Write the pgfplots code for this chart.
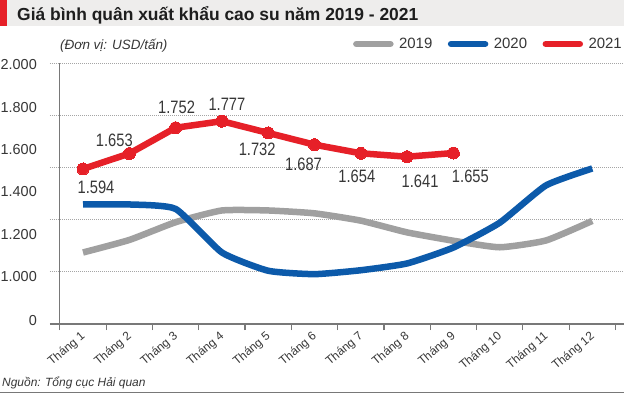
\documentclass[border=0pt]{standalone}
\usepackage{fontspec}
\setmainfont{Liberation Sans}
\newfontfamily\numfont{Liberation Sans}[FakeStretch=0.82]
\usepackage{pgfplots}
\usepackage{pgfplotstable}
\pgfplotsset{compat=1.18}
\definecolor{red21}{RGB}{230,32,40}
\definecolor{blue20}{RGB}{12,90,170}
\definecolor{gray19}{RGB}{160,160,160}
\definecolor{txt}{RGB}{55,55,55}
\definecolor{gridc}{RGB}{165,165,165}
\definecolor{axisc}{RGB}{120,120,120}
\definecolor{band}{RGB}{238,237,236}

\pgfplotstableread{
x y
1 1274
2 1322
3 1390
4 1435
5 1435
6 1424
7 1396
8 1351
9 1319
10 1294
11 1320
12 1395
}\tabA
\pgfplotstableread{
x y
1 1458
2 1458
3 1441
4 1274
5 1204
6 1191
7 1206
8 1232
9 1293
10 1388
11 1531
12 1596
}\tabB
\pgfplotstableread{
x y lab shx shy
1 1594 1.594 13 -18
2 1653 1.653 -15 13.6
3 1752 1.752 1 20.7
4 1777 1.777 5 17.2
5 1732 1.732 -11 -16
6 1687 1.687 -11 -19.3
7 1654 1.654 -4 -22.7
8 1641 1.641 13 -24.3
9 1655 1.655 17 -23
}\tabC

\begin{document}
\begin{tikzpicture}
\fill[white] (0,0) rectangle (624bp,393bp);
\fill[band] (0,367bp) rectangle (624bp,393bp);
\fill[red21] (0,367bp) rectangle (7bp,393bp);
\node[anchor=base west, inner sep=0pt, text={rgb,255:red,30;green,30;blue,30}, font=\fontsize{17.5}{20}\selectfont\bfseries] at (17bp,372bp) {Giá bình quân xuất khẩu cao su năm 2019 - 2021};
\node[anchor=base west, inner sep=0pt, text=txt, font=\fontsize{13.5}{16}\selectfont\itshape] at (60bp,343bp) {(Đơn vị: USD/tấn)};
\node[anchor=base west, inner sep=0pt, text=txt, font=\fontsize{12}{14}\selectfont\itshape] at (2bp,7bp) {Nguồn: Tổng cục Hải quan};
\draw[axisc, line width=1.2bp] (0,0.8bp) -- (624bp,0.8bp);

\begin{axis}[
  at={(50bp,69bp)}, anchor=south west,
  scale only axis, width=574bp, height=261bp,
  xmin=0.287, xmax=12.685, ymin=1000, ymax=2000,
  axis x line=bottom, axis y line=left,
  x axis line style={-, draw=axisc, line width=1.2bp},
  y axis line style={draw=none},
  tick align=outside,
  major tick length=0pt,
  minor tick length=6bp,
  major tick style={draw=none},
  minor tick style={draw=axisc, line width=1.2bp},
  xtick={1,...,12},
  xticklabels={Tháng 1,Tháng 2,Tháng 3,Tháng 4,Tháng 5,Tháng 6,Tháng 7,Tháng 8,Tháng 9,Tháng 10,Tháng 11,Tháng 12},
  minor xtick={0.5,1.5,...,12.5},
  xticklabel style={rotate=40, anchor=north east, inner sep=1bp, xshift=-5.5bp, yshift=-2bp, font=\fontsize{12}{14}\selectfont, text=txt},
  ytick={1015,1180,1341,1506,1670,1831,1996},
  yticklabels={0,1.000,1.200,1.400,1.600,1.800,2.000},
  yticklabel style={anchor=east, inner sep=0pt, xshift=-13bp, font=\fontsize{14.5}{16}\selectfont, text=txt},
  extra y ticks={1200,1400,1600,1800,2000},
  extra y tick labels={},
  extra y tick style={ymajorgrids=true, major grid style={gridc, line width=0.9bp, dash pattern=on 1bp off 1bp}},
  extra x ticks={0.5},
  extra x tick labels={},
  extra x tick style={xmajorgrids=true, major grid style={axisc, line width=1.2bp, solid}},
  legend columns=3,
  legend style={at={(axis description cs:1,1)}, anchor=east, yshift=19bp, draw=none, fill=none, inner sep=0pt,
    font=\fontsize{15}{17}\selectfont, text=txt,
    /tikz/every even column/.append style={column sep=10bp}},
  legend image code/.code={\draw[#1, mark=none, line width=6.5bp, line cap=round] (3.5bp,0) -- (37.5bp,0); \path (0,0) (41bp,0);},
  clip=false,
]
\addplot[gray19, line width=6.5bp, line join=round, smooth, tension=0.3] table[x=x,y=y] {\tabA};
\addlegendentry{2019}
\addplot[blue20, line width=6.5bp, line join=round, smooth, tension=0.3] table[x=x,y=y] {\tabB};
\addlegendentry{2020}
\addplot[red21, line width=6.5bp, line join=round, mark=*, mark size=6bp, mark options={solid, fill=red21, draw=red21, line width=0pt}] table[x=x, y=y] {\tabC};
\addlegendentry{2021}
\addplot[forget plot, draw=none, mark=none,
  nodes near coords, point meta=explicit symbolic,
  visualization depends on={\thisrow{shx}\as\lblshx},
  visualization depends on={\thisrow{shy}\as\lblshy},
  every node near coord/.append style={anchor=center, xshift=\lblshx*1bp, yshift=\lblshy*1bp, inner sep=0pt, text=txt, font=\numfont\fontsize{18}{20}\selectfont}
] table[x=x, y=y, meta=lab] {\tabC};
\end{axis}
\pgfresetboundingbox
\useasboundingbox (0,0) rectangle (624bp,393bp);
\end{tikzpicture}
\end{document}
